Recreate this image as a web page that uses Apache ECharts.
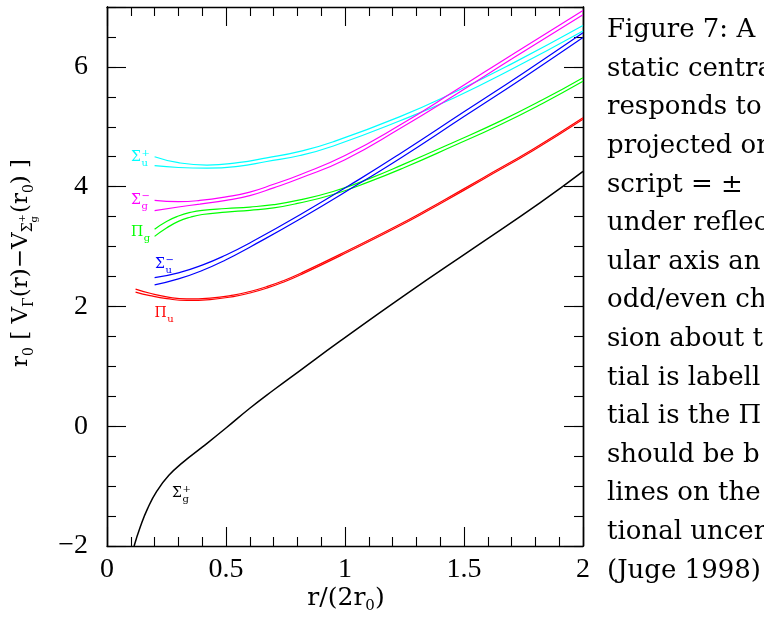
<!DOCTYPE html>
<html><head><meta charset="utf-8">
<script src="https://cdn.jsdelivr.net/npm/echarts@6/dist/echarts.min.js"></script>
<style>html,body{margin:0;padding:0;background:#fff;overflow:hidden}#c{width:764px;height:621px}</style>
</head><body><div id="c"></div>
<script>
// ---- data ----
const xCyan  = [0.2,0.3,0.42,0.55,0.671,0.811,0.951,1.231,1.462,1.7,2.0];
const yCyanA = [4.50,4.40,4.36,4.40,4.48,4.59,4.75,5.17,5.58,6.05,6.69];
const yCyanB = [4.35,4.32,4.31,4.34,4.42,4.52,4.68,5.10,5.49,5.96,6.60];

const xMag  = [0.2,0.3,0.39,0.5,0.6,0.7,0.811,1.0,1.231,1.462,1.7,2.0];
const yMagA = [3.77,3.75,3.77,3.83,3.91,4.04,4.20,4.52,5.03,5.60,6.20,6.94];
const yMagB = [3.60,3.66,3.71,3.77,3.85,3.98,4.14,4.45,4.97,5.53,6.13,6.87];

const xGreen  = [0.2,0.25,0.3,0.35,0.4,0.5,0.6,0.7,0.8,0.95,1.1,1.25,1.45,1.65,1.83,2.0];
const yGreenA = [3.29,3.42,3.51,3.57,3.605,3.635,3.66,3.70,3.77,3.92,4.13,4.38,4.73,5.09,5.45,5.82];
const yGreenB = [3.17,3.31,3.42,3.49,3.535,3.575,3.605,3.645,3.72,3.87,4.08,4.32,4.67,5.03,5.39,5.76];

const xBlue  = [0.2,0.3,0.4,0.5,0.6,0.811,1.063,1.231,1.5,1.75,2.0];
const yBlueA = [2.48,2.56,2.69,2.86,3.06,3.53,4.13,4.55,5.25,5.90,6.57];
const yBlueB = [2.36,2.46,2.60,2.78,2.99,3.46,4.06,4.47,5.17,5.82,6.49];

const xRed  = [0.12,0.181,0.251,0.335,0.433,0.531,0.601,0.671,0.741,0.811,0.979,1.259,1.413,1.581,1.791,2.0];
const yRedA = [2.29,2.22,2.16,2.125,2.14,2.19,2.25,2.33,2.43,2.55,2.87,3.43,3.77,4.15,4.63,5.15];
const yRedB = [2.24,2.18,2.13,2.10,2.115,2.165,2.225,2.305,2.405,2.525,2.845,3.405,3.745,4.125,4.605,5.125];

const xBlack = [0.114,0.14,0.17,0.21,0.26,0.32,0.4,0.5,0.6,0.7,0.811,0.979,1.259,1.539,1.819,2.0];
const yBlack = [-2.0,-1.68,-1.38,-1.08,-0.82,-0.6,-0.35,-0.03,0.30,0.605,0.93,1.42,2.21,2.97,3.73,4.255];

const xTickLabels = ['0','0.5','1','1.5','2'];
const captionLines = ['Figure 7: A','static centra','responds to','projected on','script = \u00b1','under reflec','ular axis an','odd/even ch','sion about t','tial is labell','tial is the \u03a0','should be b','lines on the','tional uncer','(Juge 1998)'];

// curve labels: [x, y (data coords of label's left/middle), main, sub, sup, colour]
const curveLabels = [
  [0.1008, 4.488, '\u03a3', 'u', '+', '#00ffff'],
  [0.1008, 3.767, '\u03a3', 'g', '\u2212', '#ff00ff'],
  [0.1008, 3.238, '\u03a0', 'g', '', '#00ff00'],
  [0.2017, 2.695, '\u03a3', 'u', '\u2212', '#0000ff'],
  [0.1996, 1.887, '\u03a0', 'u', '', '#ff0000'],
  [0.2731, -1.122, '\u03a3', 'g', '+', '#000000']
];

// ---- chart ----
const chart = echarts.init(document.getElementById('c'), null, {renderer: 'canvas'});
const pairs = (xs, ys) => xs.map((x, i) => [x, ys[i]]);
const TICK = {color: '#000', width: 1.1};
const FRAME = {color: '#000', width: 1.4};

function xAx(pos, labels) {
  return {
    type: 'value', min: 0, max: 2, interval: 0.5, position: pos,
    axisLine: {show: true, onZero: false, lineStyle: FRAME},
    axisTick: {show: true, inside: true, length: 19, lineStyle: TICK},
    minorTick: {show: true, splitNumber: 5, length: 9, lineStyle: TICK},
    splitLine: {show: false}, minorSplitLine: {show: false},
    axisLabel: labels ? {show: true, margin: 10, color: '#000', fontFamily: 'Liberation Serif', fontSize: 28,
      formatter: v => xTickLabels[Math.round(v / 0.5)] || ''} : {show: false}
  };
}
function yAx(pos, minor, labels) {
  return {
    type: 'value', min: -2, max: 7, interval: minor ? 0.5 : 2, position: pos,
    axisLine: {show: true, onZero: false, lineStyle: FRAME},
    axisTick: {show: true, inside: true, length: minor ? 9 : 19, lineStyle: TICK},
    splitLine: {show: false},
    axisLabel: labels ? {show: true, margin: 19, color: '#000', fontFamily: 'Liberation Serif', fontSize: 28,
      formatter: v => (v > 6.5 ? '' : (v < 0 ? '\u2212' + Math.abs(v) : String(v)))} : {show: false}
  };
}
function line(xs, ys, color, w) {
  return {type: 'line', xAxisIndex: 0, yAxisIndex: 0, data: pairs(xs, ys), showSymbol: false, symbol: 'none',
    smooth: 0.5, clip: true, silent: true,
    lineStyle: {color: color, width: w || 1.2}};
}

chart.setOption({
  animation: false,
  backgroundColor: '#fff',
  grid: {left: 107, right: 181, top: 7, bottom: 75, containLabel: false, outerBoundsMode: 'none'},
  xAxis: [xAx('bottom', true), xAx('top', false)],
  yAxis: [yAx('left', false, true), yAx('left', true, false), yAx('right', false, false), yAx('right', true, false)],
  series: [
    line(xCyan, yCyanA, '#00ffff'), line(xCyan, yCyanB, '#00ffff'),
    line(xMag, yMagA, '#ff00ff'), line(xMag, yMagB, '#ff00ff'),
    line(xGreen, yGreenA, '#00ff00'), line(xGreen, yGreenB, '#00ff00'),
    line(xBlue, yBlueA, '#0000ff'), line(xBlue, yBlueB, '#0000ff'),
    line(xRed, yRedA, '#ff0000'), line(xRed, yRedB, '#ff0000'),
    line(xBlack, yBlack, '#000000', 1.5)
  ]
});

// ---- text annotations ----
const mctx = document.createElement('canvas').getContext('2d');
function tw(text, font) { mctx.font = font; return mctx.measureText(text).width; }
function txt(x, y, text, font, color, align, valign) {
  return {type: 'text', x: x, y: y, silent: true,
    style: {text: text, font: font, fill: color || '#000', align: align || 'left', verticalAlign: valign || 'middle',
      textAlign: align || 'left', textVerticalAlign: valign || 'middle'}};
}
const G = [];
// curve labels
curveLabels.forEach(l => {
  const p = chart.convertToPixel({xAxisIndex: 0, yAxisIndex: 0}, [l[0], l[1]]);
  const mf = '14px "DejaVu Serif"', sf = '10px "DejaVu Serif"';
  G.push(txt(p[0], p[1], l[2], mf, l[5]));
  const sx = p[0] + tw(l[2], mf) + 0.5;
  G.push(txt(sx, p[1] + 6, l[3], sf, l[5]));
  if (l[4]) G.push(txt(sx, p[1] - 4, l[4], sf, l[5]));
});
// x axis title r/(2r0)
(function () {
  const mf = '25px "DejaVu Serif"', sf = '15px "DejaVu Serif"';
  const parts = [['r/(2r', mf, 0], ['0', sf, 8], [')', mf, 0]];
  const total = parts.reduce((s, q) => s + tw(q[0], q[1]), 0);
  let x = 346 - total / 2;
  parts.forEach(q => { G.push(txt(x, 598 + q[2], q[0], q[1])); x += tw(q[0], q[1]); });
})();
// y axis title (rotated)
(function () {
  const mf = '23px "DejaVu Serif"', sf = '14px "DejaVu Serif"', ssf = '10px "DejaVu Serif"';
  const children = [];
  let x = 0;
  const add = (t, f, dy, adv) => { children.push(txt(x, dy, t, f)); if (adv !== false) x += tw(t, f); };
  add('r', mf, 0); add('0', sf, 8); add(' [ V', mf, 0); add('\u0393', sf, 8); add('(r)\u2212V', mf, 0);
  add('\u03a3', sf, 7);
  const xs = x; add('+', ssf, 1, false); add('g', ssf, 13); x = Math.max(x, xs + tw('+', ssf));
  x += 1;
  add('(r', mf, 0); add('0', sf, 8); add(') ]', mf, 0);
  G.push({type: 'group', x: 21, y: 367, rotation: Math.PI / 2, silent: true, children: children});
})();
// caption text on the right
captionLines.forEach((s, i) => {
  G.push(txt(607, 39 + 38.6 * i - 8.5, s, '26px "DejaVu Serif"', '#000'));
});
chart.setOption({graphic: {elements: G}});
</script>
</body></html>
